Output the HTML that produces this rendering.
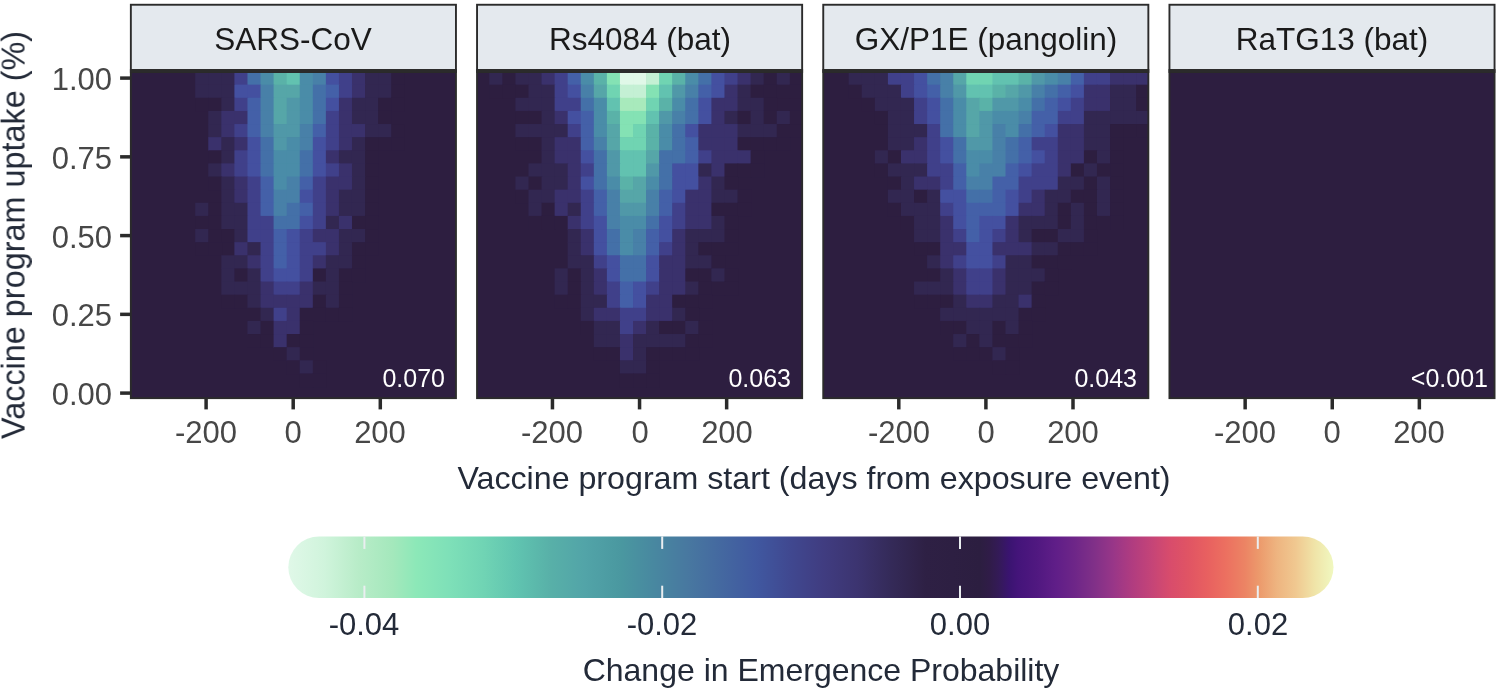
<!DOCTYPE html>
<html><head><meta charset="utf-8"><style>
html,body{margin:0;padding:0;background:#fff}
#root{position:relative;width:1500px;height:694px;overflow:hidden;background:#fff}
.t{position:absolute;white-space:nowrap;line-height:1;font-family:"Liberation Sans",sans-serif;will-change:transform}
</style></head><body><div id="root">
<svg width="1500" height="694" viewBox="0 0 1500 694" style="position:absolute;left:0;top:0"><defs><linearGradient id="cb" x1="0" x2="1" y1="0" y2="0"><stop offset="0.01%" stop-color="#e0f8e8"/><stop offset="3.43%" stop-color="#d0f4dc"/><stop offset="6.71%" stop-color="#b8ecc8"/><stop offset="9.99%" stop-color="#a4e8bc"/><stop offset="12.27%" stop-color="#8ce8b8"/><stop offset="15.40%" stop-color="#7ee0b8"/><stop offset="18.68%" stop-color="#70d4b4"/><stop offset="21.81%" stop-color="#60c4b0"/><stop offset="25.09%" stop-color="#58b0a8"/><stop offset="28.37%" stop-color="#52a4a8"/><stop offset="31.79%" stop-color="#4a98a0"/><stop offset="34.92%" stop-color="#4888a0"/><stop offset="38.20%" stop-color="#4878a0"/><stop offset="41.47%" stop-color="#4468a0"/><stop offset="44.75%" stop-color="#4058a0"/><stop offset="48.03%" stop-color="#404890"/><stop offset="51.30%" stop-color="#403c80"/><stop offset="54.44%" stop-color="#3c3470"/><stop offset="57.71%" stop-color="#342a58"/><stop offset="60.99%" stop-color="#2e2044"/><stop offset="66.18%" stop-color="#2c1e40"/><stop offset="67.09%" stop-color="#301c48"/><stop offset="68.00%" stop-color="#341a58"/><stop offset="68.96%" stop-color="#3a1470"/><stop offset="69.82%" stop-color="#44147a"/><stop offset="71.63%" stop-color="#501880"/><stop offset="73.46%" stop-color="#601e88"/><stop offset="75.27%" stop-color="#6e2688"/><stop offset="77.09%" stop-color="#803088"/><stop offset="78.91%" stop-color="#983688"/><stop offset="80.72%" stop-color="#b03c80"/><stop offset="82.55%" stop-color="#c44478"/><stop offset="84.36%" stop-color="#d84c6c"/><stop offset="86.08%" stop-color="#e05464"/><stop offset="87.90%" stop-color="#e86060"/><stop offset="89.71%" stop-color="#ec7060"/><stop offset="91.54%" stop-color="#ec8464"/><stop offset="92.90%" stop-color="#ec9a6c"/><stop offset="94.57%" stop-color="#eeb480"/><stop offset="96.38%" stop-color="#f0c890"/><stop offset="98.20%" stop-color="#f0e4a8"/><stop offset="100.00%" stop-color="#f0f8c0"/></linearGradient></defs><rect x="130.85" y="4.75" width="325.1" height="65.30" fill="#e4e9ee" stroke="#2b2b2b" stroke-width="1.9"/><rect x="130.85" y="71.95" width="325.1" height="326.2" fill="#2d1e40"/><g><rect x="195.21" y="71.95" width="13.76" height="13.41" fill="#322751"/><rect x="208.28" y="71.95" width="13.76" height="13.41" fill="#322751"/><rect x="221.34" y="71.95" width="13.76" height="13.41" fill="#322751"/><rect x="234.41" y="71.95" width="13.76" height="13.41" fill="#40408a"/><rect x="247.47" y="71.95" width="13.77" height="13.41" fill="#4470a8"/><rect x="260.54" y="71.95" width="13.77" height="13.41" fill="#4a8ca8"/><rect x="273.60" y="71.95" width="13.77" height="13.41" fill="#5ab2a8"/><rect x="286.67" y="71.95" width="13.77" height="13.41" fill="#62c2b0"/><rect x="299.73" y="71.95" width="13.77" height="13.41" fill="#4a8ca8"/><rect x="312.80" y="71.95" width="13.77" height="13.41" fill="#4880a8"/><rect x="325.86" y="71.95" width="13.77" height="13.41" fill="#4450a0"/><rect x="338.93" y="71.95" width="13.77" height="13.41" fill="#40408a"/><rect x="351.99" y="71.95" width="13.77" height="13.41" fill="#3a316c"/><rect x="365.06" y="71.95" width="13.77" height="13.41" fill="#322751"/><rect x="378.12" y="71.95" width="13.77" height="13.41" fill="#322751"/><rect x="391.19" y="71.95" width="13.77" height="13.41" fill="#2d1e40"/><rect x="195.21" y="84.66" width="13.76" height="13.83" fill="#322751"/><rect x="208.28" y="84.66" width="13.76" height="13.83" fill="#322751"/><rect x="221.34" y="84.66" width="13.76" height="13.83" fill="#322751"/><rect x="234.41" y="84.66" width="13.76" height="13.83" fill="#4450a0"/><rect x="247.47" y="84.66" width="13.77" height="13.83" fill="#4450a0"/><rect x="260.54" y="84.66" width="13.77" height="13.83" fill="#4880a8"/><rect x="273.60" y="84.66" width="13.77" height="13.83" fill="#56a6a8"/><rect x="286.67" y="84.66" width="13.77" height="13.83" fill="#56a6a8"/><rect x="299.73" y="84.66" width="13.77" height="13.83" fill="#4a8ca8"/><rect x="312.80" y="84.66" width="13.77" height="13.83" fill="#4470a8"/><rect x="325.86" y="84.66" width="13.77" height="13.83" fill="#4460a8"/><rect x="338.93" y="84.66" width="13.77" height="13.83" fill="#40408a"/><rect x="351.99" y="84.66" width="13.77" height="13.83" fill="#3a316c"/><rect x="365.06" y="84.66" width="13.77" height="13.83" fill="#322751"/><rect x="378.12" y="84.66" width="13.77" height="13.83" fill="#322751"/><rect x="391.19" y="84.66" width="13.77" height="13.83" fill="#2d1e40"/><rect x="195.21" y="97.79" width="13.76" height="13.83" fill="#2d1e40"/><rect x="208.28" y="97.79" width="13.76" height="13.83" fill="#2d1e40"/><rect x="221.34" y="97.79" width="13.76" height="13.83" fill="#322751"/><rect x="234.41" y="97.79" width="13.76" height="13.83" fill="#40408a"/><rect x="247.47" y="97.79" width="13.77" height="13.83" fill="#4460a8"/><rect x="260.54" y="97.79" width="13.77" height="13.83" fill="#4880a8"/><rect x="273.60" y="97.79" width="13.77" height="13.83" fill="#56a6a8"/><rect x="286.67" y="97.79" width="13.77" height="13.83" fill="#5098a8"/><rect x="299.73" y="97.79" width="13.77" height="13.83" fill="#4a8ca8"/><rect x="312.80" y="97.79" width="13.77" height="13.83" fill="#4470a8"/><rect x="325.86" y="97.79" width="13.77" height="13.83" fill="#4450a0"/><rect x="338.93" y="97.79" width="13.77" height="13.83" fill="#3a316c"/><rect x="351.99" y="97.79" width="13.77" height="13.83" fill="#322751"/><rect x="365.06" y="97.79" width="13.77" height="13.83" fill="#322751"/><rect x="378.12" y="97.79" width="13.77" height="13.83" fill="#2d1e40"/><rect x="391.19" y="97.79" width="13.77" height="13.83" fill="#2d1e40"/><rect x="208.28" y="110.91" width="13.76" height="13.83" fill="#322751"/><rect x="221.34" y="110.91" width="13.76" height="13.83" fill="#3a316c"/><rect x="234.41" y="110.91" width="13.76" height="13.83" fill="#3a316c"/><rect x="247.47" y="110.91" width="13.77" height="13.83" fill="#4460a8"/><rect x="260.54" y="110.91" width="13.77" height="13.83" fill="#4880a8"/><rect x="273.60" y="110.91" width="13.77" height="13.83" fill="#56a6a8"/><rect x="286.67" y="110.91" width="13.77" height="13.83" fill="#5098a8"/><rect x="299.73" y="110.91" width="13.77" height="13.83" fill="#4a8ca8"/><rect x="312.80" y="110.91" width="13.77" height="13.83" fill="#4470a8"/><rect x="325.86" y="110.91" width="13.77" height="13.83" fill="#40408a"/><rect x="338.93" y="110.91" width="13.77" height="13.83" fill="#3a316c"/><rect x="351.99" y="110.91" width="13.77" height="13.83" fill="#322751"/><rect x="365.06" y="110.91" width="13.77" height="13.83" fill="#322751"/><rect x="378.12" y="110.91" width="13.77" height="13.83" fill="#2d1e40"/><rect x="208.28" y="124.04" width="13.76" height="13.82" fill="#322751"/><rect x="221.34" y="124.04" width="13.76" height="13.82" fill="#3a316c"/><rect x="234.41" y="124.04" width="13.76" height="13.82" fill="#40408a"/><rect x="247.47" y="124.04" width="13.77" height="13.82" fill="#4460a8"/><rect x="260.54" y="124.04" width="13.77" height="13.82" fill="#4880a8"/><rect x="273.60" y="124.04" width="13.77" height="13.82" fill="#5098a8"/><rect x="286.67" y="124.04" width="13.77" height="13.82" fill="#5098a8"/><rect x="299.73" y="124.04" width="13.77" height="13.82" fill="#4880a8"/><rect x="312.80" y="124.04" width="13.77" height="13.82" fill="#4460a8"/><rect x="325.86" y="124.04" width="13.77" height="13.82" fill="#40408a"/><rect x="338.93" y="124.04" width="13.77" height="13.82" fill="#3a316c"/><rect x="351.99" y="124.04" width="13.77" height="13.82" fill="#3a316c"/><rect x="365.06" y="124.04" width="13.77" height="13.82" fill="#322751"/><rect x="378.12" y="124.04" width="13.77" height="13.82" fill="#322751"/><rect x="391.19" y="124.04" width="13.77" height="13.82" fill="#2d1e40"/><rect x="208.28" y="137.16" width="13.76" height="13.82" fill="#3a316c"/><rect x="221.34" y="137.16" width="13.76" height="13.82" fill="#322751"/><rect x="234.41" y="137.16" width="13.76" height="13.82" fill="#3a316c"/><rect x="247.47" y="137.16" width="13.77" height="13.82" fill="#4450a0"/><rect x="260.54" y="137.16" width="13.77" height="13.82" fill="#4470a8"/><rect x="273.60" y="137.16" width="13.77" height="13.82" fill="#5098a8"/><rect x="286.67" y="137.16" width="13.77" height="13.82" fill="#4a8ca8"/><rect x="299.73" y="137.16" width="13.77" height="13.82" fill="#4880a8"/><rect x="312.80" y="137.16" width="13.77" height="13.82" fill="#4450a0"/><rect x="325.86" y="137.16" width="13.77" height="13.82" fill="#40408a"/><rect x="338.93" y="137.16" width="13.77" height="13.82" fill="#3a316c"/><rect x="351.99" y="137.16" width="13.77" height="13.82" fill="#322751"/><rect x="365.06" y="137.16" width="13.77" height="13.82" fill="#2d1e40"/><rect x="378.12" y="137.16" width="13.77" height="13.82" fill="#2d1e40"/><rect x="391.19" y="137.16" width="13.77" height="13.82" fill="#2d1e40"/><rect x="208.28" y="150.29" width="13.76" height="13.82" fill="#2d1e40"/><rect x="221.34" y="150.29" width="13.76" height="13.82" fill="#322751"/><rect x="234.41" y="150.29" width="13.76" height="13.82" fill="#40408a"/><rect x="247.47" y="150.29" width="13.77" height="13.82" fill="#4450a0"/><rect x="260.54" y="150.29" width="13.77" height="13.82" fill="#4470a8"/><rect x="273.60" y="150.29" width="13.77" height="13.82" fill="#4a8ca8"/><rect x="286.67" y="150.29" width="13.77" height="13.82" fill="#4a8ca8"/><rect x="299.73" y="150.29" width="13.77" height="13.82" fill="#4470a8"/><rect x="312.80" y="150.29" width="13.77" height="13.82" fill="#4450a0"/><rect x="325.86" y="150.29" width="13.77" height="13.82" fill="#3a316c"/><rect x="338.93" y="150.29" width="13.77" height="13.82" fill="#322751"/><rect x="351.99" y="150.29" width="13.77" height="13.82" fill="#322751"/><rect x="365.06" y="150.29" width="13.77" height="13.82" fill="#2d1e40"/><rect x="208.28" y="163.41" width="13.76" height="13.82" fill="#322751"/><rect x="221.34" y="163.41" width="13.76" height="13.82" fill="#3a316c"/><rect x="234.41" y="163.41" width="13.76" height="13.82" fill="#40408a"/><rect x="247.47" y="163.41" width="13.77" height="13.82" fill="#4450a0"/><rect x="260.54" y="163.41" width="13.77" height="13.82" fill="#4470a8"/><rect x="273.60" y="163.41" width="13.77" height="13.82" fill="#4a8ca8"/><rect x="286.67" y="163.41" width="13.77" height="13.82" fill="#4a8ca8"/><rect x="299.73" y="163.41" width="13.77" height="13.82" fill="#4470a8"/><rect x="312.80" y="163.41" width="13.77" height="13.82" fill="#4450a0"/><rect x="325.86" y="163.41" width="13.77" height="13.82" fill="#40408a"/><rect x="338.93" y="163.41" width="13.77" height="13.82" fill="#3a316c"/><rect x="351.99" y="163.41" width="13.77" height="13.82" fill="#322751"/><rect x="365.06" y="163.41" width="13.77" height="13.82" fill="#2d1e40"/><rect x="208.28" y="176.54" width="13.76" height="13.82" fill="#2d1e40"/><rect x="221.34" y="176.54" width="13.76" height="13.82" fill="#322751"/><rect x="234.41" y="176.54" width="13.76" height="13.82" fill="#3a316c"/><rect x="247.47" y="176.54" width="13.77" height="13.82" fill="#40408a"/><rect x="260.54" y="176.54" width="13.77" height="13.82" fill="#4460a8"/><rect x="273.60" y="176.54" width="13.77" height="13.82" fill="#4a8ca8"/><rect x="286.67" y="176.54" width="13.77" height="13.82" fill="#4880a8"/><rect x="299.73" y="176.54" width="13.77" height="13.82" fill="#4460a8"/><rect x="312.80" y="176.54" width="13.77" height="13.82" fill="#40408a"/><rect x="325.86" y="176.54" width="13.77" height="13.82" fill="#3a316c"/><rect x="338.93" y="176.54" width="13.77" height="13.82" fill="#3a316c"/><rect x="351.99" y="176.54" width="13.77" height="13.82" fill="#322751"/><rect x="365.06" y="176.54" width="13.77" height="13.82" fill="#2d1e40"/><rect x="221.34" y="189.66" width="13.76" height="13.82" fill="#322751"/><rect x="234.41" y="189.66" width="13.76" height="13.82" fill="#3a316c"/><rect x="247.47" y="189.66" width="13.77" height="13.82" fill="#40408a"/><rect x="260.54" y="189.66" width="13.77" height="13.82" fill="#4460a8"/><rect x="273.60" y="189.66" width="13.77" height="13.82" fill="#4880a8"/><rect x="286.67" y="189.66" width="13.77" height="13.82" fill="#4880a8"/><rect x="299.73" y="189.66" width="13.77" height="13.82" fill="#4450a0"/><rect x="312.80" y="189.66" width="13.77" height="13.82" fill="#40408a"/><rect x="325.86" y="189.66" width="13.77" height="13.82" fill="#3a316c"/><rect x="338.93" y="189.66" width="13.77" height="13.82" fill="#322751"/><rect x="351.99" y="189.66" width="13.77" height="13.82" fill="#322751"/><rect x="365.06" y="189.66" width="13.77" height="13.82" fill="#2d1e40"/><rect x="195.21" y="202.79" width="13.76" height="13.82" fill="#322751"/><rect x="208.28" y="202.79" width="13.76" height="13.82" fill="#2d1e40"/><rect x="221.34" y="202.79" width="13.76" height="13.82" fill="#322751"/><rect x="234.41" y="202.79" width="13.76" height="13.82" fill="#322751"/><rect x="247.47" y="202.79" width="13.77" height="13.82" fill="#40408a"/><rect x="260.54" y="202.79" width="13.77" height="13.82" fill="#4460a8"/><rect x="273.60" y="202.79" width="13.77" height="13.82" fill="#4880a8"/><rect x="286.67" y="202.79" width="13.77" height="13.82" fill="#4470a8"/><rect x="299.73" y="202.79" width="13.77" height="13.82" fill="#4460a8"/><rect x="312.80" y="202.79" width="13.77" height="13.82" fill="#40408a"/><rect x="325.86" y="202.79" width="13.77" height="13.82" fill="#3a316c"/><rect x="338.93" y="202.79" width="13.77" height="13.82" fill="#322751"/><rect x="351.99" y="202.79" width="13.77" height="13.82" fill="#322751"/><rect x="365.06" y="202.79" width="13.77" height="13.82" fill="#2d1e40"/><rect x="195.21" y="215.91" width="13.76" height="13.82" fill="#2d1e40"/><rect x="208.28" y="215.91" width="13.76" height="13.82" fill="#2d1e40"/><rect x="221.34" y="215.91" width="13.76" height="13.82" fill="#322751"/><rect x="234.41" y="215.91" width="13.76" height="13.82" fill="#322751"/><rect x="247.47" y="215.91" width="13.77" height="13.82" fill="#40408a"/><rect x="260.54" y="215.91" width="13.77" height="13.82" fill="#40408a"/><rect x="273.60" y="215.91" width="13.77" height="13.82" fill="#4470a8"/><rect x="286.67" y="215.91" width="13.77" height="13.82" fill="#4470a8"/><rect x="299.73" y="215.91" width="13.77" height="13.82" fill="#4450a0"/><rect x="312.80" y="215.91" width="13.77" height="13.82" fill="#40408a"/><rect x="325.86" y="215.91" width="13.77" height="13.82" fill="#322751"/><rect x="338.93" y="215.91" width="13.77" height="13.82" fill="#3a316c"/><rect x="351.99" y="215.91" width="13.77" height="13.82" fill="#2d1e40"/><rect x="365.06" y="215.91" width="13.77" height="13.82" fill="#2d1e40"/><rect x="195.21" y="229.04" width="13.76" height="13.82" fill="#322751"/><rect x="208.28" y="229.04" width="13.76" height="13.82" fill="#2d1e40"/><rect x="221.34" y="229.04" width="13.76" height="13.82" fill="#2d1e40"/><rect x="234.41" y="229.04" width="13.76" height="13.82" fill="#322751"/><rect x="247.47" y="229.04" width="13.77" height="13.82" fill="#40408a"/><rect x="260.54" y="229.04" width="13.77" height="13.82" fill="#40408a"/><rect x="273.60" y="229.04" width="13.77" height="13.82" fill="#4460a8"/><rect x="286.67" y="229.04" width="13.77" height="13.82" fill="#4450a0"/><rect x="299.73" y="229.04" width="13.77" height="13.82" fill="#40408a"/><rect x="312.80" y="229.04" width="13.77" height="13.82" fill="#3a316c"/><rect x="325.86" y="229.04" width="13.77" height="13.82" fill="#3a316c"/><rect x="338.93" y="229.04" width="13.77" height="13.82" fill="#322751"/><rect x="351.99" y="229.04" width="13.77" height="13.82" fill="#322751"/><rect x="365.06" y="229.04" width="13.77" height="13.82" fill="#2d1e40"/><rect x="195.21" y="242.16" width="13.76" height="13.82" fill="#2d1e40"/><rect x="208.28" y="242.16" width="13.76" height="13.82" fill="#2d1e40"/><rect x="234.41" y="242.16" width="13.76" height="13.82" fill="#3a316c"/><rect x="247.47" y="242.16" width="13.77" height="13.82" fill="#322751"/><rect x="260.54" y="242.16" width="13.77" height="13.82" fill="#40408a"/><rect x="273.60" y="242.16" width="13.77" height="13.82" fill="#4460a8"/><rect x="286.67" y="242.16" width="13.77" height="13.82" fill="#4450a0"/><rect x="299.73" y="242.16" width="13.77" height="13.82" fill="#40408a"/><rect x="312.80" y="242.16" width="13.77" height="13.82" fill="#40408a"/><rect x="325.86" y="242.16" width="13.77" height="13.82" fill="#3a316c"/><rect x="338.93" y="242.16" width="13.77" height="13.82" fill="#322751"/><rect x="351.99" y="242.16" width="13.77" height="13.82" fill="#2d1e40"/><rect x="365.06" y="242.16" width="13.77" height="13.82" fill="#2d1e40"/><rect x="221.34" y="255.29" width="13.76" height="13.82" fill="#322751"/><rect x="234.41" y="255.29" width="13.76" height="13.82" fill="#322751"/><rect x="247.47" y="255.29" width="13.77" height="13.82" fill="#3a316c"/><rect x="260.54" y="255.29" width="13.77" height="13.82" fill="#40408a"/><rect x="273.60" y="255.29" width="13.77" height="13.82" fill="#4460a8"/><rect x="286.67" y="255.29" width="13.77" height="13.82" fill="#4450a0"/><rect x="299.73" y="255.29" width="13.77" height="13.82" fill="#40408a"/><rect x="312.80" y="255.29" width="13.77" height="13.82" fill="#3a316c"/><rect x="325.86" y="255.29" width="13.77" height="13.82" fill="#322751"/><rect x="338.93" y="255.29" width="13.77" height="13.82" fill="#322751"/><rect x="351.99" y="255.29" width="13.77" height="13.82" fill="#2d1e40"/><rect x="221.34" y="268.41" width="13.76" height="13.82" fill="#322751"/><rect x="234.41" y="268.41" width="13.76" height="13.82" fill="#2d1e40"/><rect x="247.47" y="268.41" width="13.77" height="13.82" fill="#322751"/><rect x="260.54" y="268.41" width="13.77" height="13.82" fill="#40408a"/><rect x="273.60" y="268.41" width="13.77" height="13.82" fill="#4450a0"/><rect x="286.67" y="268.41" width="13.77" height="13.82" fill="#4450a0"/><rect x="299.73" y="268.41" width="13.77" height="13.82" fill="#40408a"/><rect x="312.80" y="268.41" width="13.77" height="13.82" fill="#2d1e40"/><rect x="325.86" y="268.41" width="13.77" height="13.82" fill="#322751"/><rect x="338.93" y="268.41" width="13.77" height="13.82" fill="#2d1e40"/><rect x="351.99" y="268.41" width="13.77" height="13.82" fill="#2d1e40"/><rect x="221.34" y="281.54" width="13.76" height="13.82" fill="#322751"/><rect x="234.41" y="281.54" width="13.76" height="13.82" fill="#322751"/><rect x="247.47" y="281.54" width="13.77" height="13.82" fill="#322751"/><rect x="260.54" y="281.54" width="13.77" height="13.82" fill="#3a316c"/><rect x="273.60" y="281.54" width="13.77" height="13.82" fill="#40408a"/><rect x="286.67" y="281.54" width="13.77" height="13.82" fill="#40408a"/><rect x="299.73" y="281.54" width="13.77" height="13.82" fill="#3a316c"/><rect x="312.80" y="281.54" width="13.77" height="13.82" fill="#322751"/><rect x="325.86" y="281.54" width="13.77" height="13.82" fill="#322751"/><rect x="338.93" y="281.54" width="13.77" height="13.82" fill="#2d1e40"/><rect x="221.34" y="294.66" width="13.76" height="13.82" fill="#2d1e40"/><rect x="234.41" y="294.66" width="13.76" height="13.82" fill="#2d1e40"/><rect x="247.47" y="294.66" width="13.77" height="13.82" fill="#322751"/><rect x="260.54" y="294.66" width="13.77" height="13.82" fill="#3a316c"/><rect x="273.60" y="294.66" width="13.77" height="13.82" fill="#3a316c"/><rect x="286.67" y="294.66" width="13.77" height="13.82" fill="#3a316c"/><rect x="299.73" y="294.66" width="13.77" height="13.82" fill="#3a316c"/><rect x="312.80" y="294.66" width="13.77" height="13.82" fill="#2d1e40"/><rect x="325.86" y="294.66" width="13.77" height="13.82" fill="#322751"/><rect x="338.93" y="294.66" width="13.77" height="13.82" fill="#2d1e40"/><rect x="247.47" y="307.79" width="13.77" height="13.82" fill="#2d1e40"/><rect x="260.54" y="307.79" width="13.77" height="13.82" fill="#322751"/><rect x="273.60" y="307.79" width="13.77" height="13.82" fill="#40408a"/><rect x="286.67" y="307.79" width="13.77" height="13.82" fill="#3a316c"/><rect x="299.73" y="307.79" width="13.77" height="13.82" fill="#2d1e40"/><rect x="312.80" y="307.79" width="13.77" height="13.82" fill="#2d1e40"/><rect x="325.86" y="307.79" width="13.77" height="13.82" fill="#2d1e40"/><rect x="338.93" y="307.79" width="13.77" height="13.82" fill="#2d1e40"/><rect x="247.47" y="320.91" width="13.77" height="13.82" fill="#322751"/><rect x="260.54" y="320.91" width="13.77" height="13.82" fill="#2d1e40"/><rect x="273.60" y="320.91" width="13.77" height="13.82" fill="#3a316c"/><rect x="286.67" y="320.91" width="13.77" height="13.82" fill="#3a316c"/><rect x="299.73" y="320.91" width="13.77" height="13.82" fill="#2d1e40"/><rect x="247.47" y="334.04" width="13.77" height="13.82" fill="#2d1e40"/><rect x="260.54" y="334.04" width="13.77" height="13.82" fill="#2d1e40"/><rect x="273.60" y="334.04" width="13.77" height="13.82" fill="#3a316c"/><rect x="286.67" y="334.04" width="13.77" height="13.82" fill="#2d1e40"/><rect x="299.73" y="334.04" width="13.77" height="13.82" fill="#2d1e40"/><rect x="273.60" y="347.16" width="13.77" height="13.82" fill="#2d1e40"/><rect x="286.67" y="347.16" width="13.77" height="13.82" fill="#322751"/><rect x="299.73" y="347.16" width="13.77" height="13.82" fill="#2d1e40"/><rect x="286.67" y="360.29" width="13.77" height="13.82" fill="#2d1e40"/><rect x="299.73" y="360.29" width="13.77" height="13.82" fill="#322751"/><rect x="312.80" y="360.29" width="13.77" height="13.82" fill="#2d1e40"/><rect x="299.73" y="373.41" width="13.77" height="13.82" fill="#2d1e40"/><rect x="312.80" y="373.41" width="13.77" height="13.82" fill="#2d1e40"/></g><rect x="130.85" y="71.95" width="325.1" height="326.2" fill="none" stroke="#2b2b2b" stroke-width="1.9"/><rect x="129.90" y="69.10" width="327.00" height="3.80" fill="#2b2b2b"/><line x1="206.10" y1="398.15" x2="206.10" y2="409.4" stroke="#2b2b2b" stroke-width="3.5"/><line x1="293.20" y1="398.15" x2="293.20" y2="409.4" stroke="#2b2b2b" stroke-width="3.5"/><line x1="380.30" y1="398.15" x2="380.30" y2="409.4" stroke="#2b2b2b" stroke-width="3.5"/><rect x="477.05" y="4.75" width="325.1" height="65.30" fill="#e4e9ee" stroke="#2b2b2b" stroke-width="1.9"/><rect x="477.05" y="71.95" width="325.1" height="326.2" fill="#2d1e40"/><g><rect x="489.30" y="71.95" width="13.77" height="13.41" fill="#322751"/><rect x="502.37" y="71.95" width="13.77" height="13.41" fill="#2d1e40"/><rect x="515.43" y="71.95" width="13.77" height="13.41" fill="#322751"/><rect x="528.50" y="71.95" width="13.77" height="13.41" fill="#322751"/><rect x="541.56" y="71.95" width="13.77" height="13.41" fill="#3a316c"/><rect x="554.63" y="71.95" width="13.77" height="13.41" fill="#40408a"/><rect x="567.69" y="71.95" width="13.77" height="13.41" fill="#4460a8"/><rect x="580.76" y="71.95" width="13.77" height="13.41" fill="#4a8ca8"/><rect x="593.82" y="71.95" width="13.77" height="13.41" fill="#5ab2a8"/><rect x="606.89" y="71.95" width="13.77" height="13.41" fill="#84e2b4"/><rect x="619.95" y="71.95" width="13.77" height="13.41" fill="#e0f8e8"/><rect x="633.02" y="71.95" width="13.77" height="13.41" fill="#e0f8e8"/><rect x="646.08" y="71.95" width="13.77" height="13.41" fill="#c4f0d4"/><rect x="659.15" y="71.95" width="13.77" height="13.41" fill="#70d4b2"/><rect x="672.21" y="71.95" width="13.77" height="13.41" fill="#5ab2a8"/><rect x="685.28" y="71.95" width="13.77" height="13.41" fill="#4a8ca8"/><rect x="698.34" y="71.95" width="13.77" height="13.41" fill="#4470a8"/><rect x="711.41" y="71.95" width="13.77" height="13.41" fill="#4450a0"/><rect x="724.47" y="71.95" width="13.77" height="13.41" fill="#40408a"/><rect x="737.54" y="71.95" width="13.77" height="13.41" fill="#3a316c"/><rect x="750.60" y="71.95" width="13.77" height="13.41" fill="#322751"/><rect x="763.67" y="71.95" width="13.77" height="13.41" fill="#2d1e40"/><rect x="776.73" y="71.95" width="13.77" height="13.41" fill="#322751"/><rect x="789.80" y="71.95" width="12.35" height="13.41" fill="#2d1e40"/><rect x="489.30" y="84.66" width="13.77" height="13.83" fill="#2d1e40"/><rect x="502.37" y="84.66" width="13.77" height="13.83" fill="#2d1e40"/><rect x="515.43" y="84.66" width="13.77" height="13.83" fill="#2d1e40"/><rect x="528.50" y="84.66" width="13.77" height="13.83" fill="#322751"/><rect x="541.56" y="84.66" width="13.77" height="13.83" fill="#322751"/><rect x="554.63" y="84.66" width="13.77" height="13.83" fill="#40408a"/><rect x="567.69" y="84.66" width="13.77" height="13.83" fill="#4450a0"/><rect x="580.76" y="84.66" width="13.77" height="13.83" fill="#4880a8"/><rect x="593.82" y="84.66" width="13.77" height="13.83" fill="#56a6a8"/><rect x="606.89" y="84.66" width="13.77" height="13.83" fill="#70d4b2"/><rect x="619.95" y="84.66" width="13.77" height="13.83" fill="#c4f0d4"/><rect x="633.02" y="84.66" width="13.77" height="13.83" fill="#c4f0d4"/><rect x="646.08" y="84.66" width="13.77" height="13.83" fill="#84e2b4"/><rect x="659.15" y="84.66" width="13.77" height="13.83" fill="#62c2b0"/><rect x="672.21" y="84.66" width="13.77" height="13.83" fill="#5098a8"/><rect x="685.28" y="84.66" width="13.77" height="13.83" fill="#4880a8"/><rect x="698.34" y="84.66" width="13.77" height="13.83" fill="#4460a8"/><rect x="711.41" y="84.66" width="13.77" height="13.83" fill="#4450a0"/><rect x="724.47" y="84.66" width="13.77" height="13.83" fill="#3a316c"/><rect x="737.54" y="84.66" width="13.77" height="13.83" fill="#322751"/><rect x="750.60" y="84.66" width="13.77" height="13.83" fill="#2d1e40"/><rect x="763.67" y="84.66" width="13.77" height="13.83" fill="#2d1e40"/><rect x="776.73" y="84.66" width="13.77" height="13.83" fill="#2d1e40"/><rect x="789.80" y="84.66" width="12.35" height="13.83" fill="#2d1e40"/><rect x="515.43" y="97.79" width="13.77" height="13.83" fill="#322751"/><rect x="528.50" y="97.79" width="13.77" height="13.83" fill="#322751"/><rect x="541.56" y="97.79" width="13.77" height="13.83" fill="#322751"/><rect x="554.63" y="97.79" width="13.77" height="13.83" fill="#40408a"/><rect x="567.69" y="97.79" width="13.77" height="13.83" fill="#40408a"/><rect x="580.76" y="97.79" width="13.77" height="13.83" fill="#4470a8"/><rect x="593.82" y="97.79" width="13.77" height="13.83" fill="#4a8ca8"/><rect x="606.89" y="97.79" width="13.77" height="13.83" fill="#62c2b0"/><rect x="619.95" y="97.79" width="13.77" height="13.83" fill="#a8eabc"/><rect x="633.02" y="97.79" width="13.77" height="13.83" fill="#a8eabc"/><rect x="646.08" y="97.79" width="13.77" height="13.83" fill="#70d4b2"/><rect x="659.15" y="97.79" width="13.77" height="13.83" fill="#5ab2a8"/><rect x="672.21" y="97.79" width="13.77" height="13.83" fill="#4a8ca8"/><rect x="685.28" y="97.79" width="13.77" height="13.83" fill="#4470a8"/><rect x="698.34" y="97.79" width="13.77" height="13.83" fill="#4450a0"/><rect x="711.41" y="97.79" width="13.77" height="13.83" fill="#3a316c"/><rect x="724.47" y="97.79" width="13.77" height="13.83" fill="#3a316c"/><rect x="737.54" y="97.79" width="13.77" height="13.83" fill="#322751"/><rect x="750.60" y="97.79" width="13.77" height="13.83" fill="#322751"/><rect x="763.67" y="97.79" width="13.77" height="13.83" fill="#2d1e40"/><rect x="515.43" y="110.91" width="13.77" height="13.83" fill="#2d1e40"/><rect x="528.50" y="110.91" width="13.77" height="13.83" fill="#2d1e40"/><rect x="541.56" y="110.91" width="13.77" height="13.83" fill="#322751"/><rect x="554.63" y="110.91" width="13.77" height="13.83" fill="#3a316c"/><rect x="567.69" y="110.91" width="13.77" height="13.83" fill="#4450a0"/><rect x="580.76" y="110.91" width="13.77" height="13.83" fill="#4460a8"/><rect x="593.82" y="110.91" width="13.77" height="13.83" fill="#4a8ca8"/><rect x="606.89" y="110.91" width="13.77" height="13.83" fill="#5ab2a8"/><rect x="619.95" y="110.91" width="13.77" height="13.83" fill="#84e2b4"/><rect x="633.02" y="110.91" width="13.77" height="13.83" fill="#84e2b4"/><rect x="646.08" y="110.91" width="13.77" height="13.83" fill="#62c2b0"/><rect x="659.15" y="110.91" width="13.77" height="13.83" fill="#5098a8"/><rect x="672.21" y="110.91" width="13.77" height="13.83" fill="#4880a8"/><rect x="685.28" y="110.91" width="13.77" height="13.83" fill="#4470a8"/><rect x="698.34" y="110.91" width="13.77" height="13.83" fill="#4450a0"/><rect x="711.41" y="110.91" width="13.77" height="13.83" fill="#3a316c"/><rect x="724.47" y="110.91" width="13.77" height="13.83" fill="#322751"/><rect x="737.54" y="110.91" width="13.77" height="13.83" fill="#2d1e40"/><rect x="750.60" y="110.91" width="13.77" height="13.83" fill="#322751"/><rect x="763.67" y="110.91" width="13.77" height="13.83" fill="#2d1e40"/><rect x="776.73" y="110.91" width="13.77" height="13.83" fill="#322751"/><rect x="789.80" y="110.91" width="12.35" height="13.83" fill="#2d1e40"/><rect x="515.43" y="124.04" width="13.77" height="13.82" fill="#322751"/><rect x="528.50" y="124.04" width="13.77" height="13.82" fill="#322751"/><rect x="541.56" y="124.04" width="13.77" height="13.82" fill="#322751"/><rect x="554.63" y="124.04" width="13.77" height="13.82" fill="#322751"/><rect x="567.69" y="124.04" width="13.77" height="13.82" fill="#40408a"/><rect x="580.76" y="124.04" width="13.77" height="13.82" fill="#4460a8"/><rect x="593.82" y="124.04" width="13.77" height="13.82" fill="#4a8ca8"/><rect x="606.89" y="124.04" width="13.77" height="13.82" fill="#56a6a8"/><rect x="619.95" y="124.04" width="13.77" height="13.82" fill="#84e2b4"/><rect x="633.02" y="124.04" width="13.77" height="13.82" fill="#70d4b2"/><rect x="646.08" y="124.04" width="13.77" height="13.82" fill="#5ab2a8"/><rect x="659.15" y="124.04" width="13.77" height="13.82" fill="#4a8ca8"/><rect x="672.21" y="124.04" width="13.77" height="13.82" fill="#4470a8"/><rect x="685.28" y="124.04" width="13.77" height="13.82" fill="#4450a0"/><rect x="698.34" y="124.04" width="13.77" height="13.82" fill="#3a316c"/><rect x="711.41" y="124.04" width="13.77" height="13.82" fill="#3a316c"/><rect x="724.47" y="124.04" width="13.77" height="13.82" fill="#3a316c"/><rect x="737.54" y="124.04" width="13.77" height="13.82" fill="#322751"/><rect x="750.60" y="124.04" width="13.77" height="13.82" fill="#322751"/><rect x="763.67" y="124.04" width="13.77" height="13.82" fill="#322751"/><rect x="776.73" y="124.04" width="13.77" height="13.82" fill="#2d1e40"/><rect x="789.80" y="124.04" width="12.35" height="13.82" fill="#2d1e40"/><rect x="515.43" y="137.16" width="13.77" height="13.82" fill="#2d1e40"/><rect x="528.50" y="137.16" width="13.77" height="13.82" fill="#2d1e40"/><rect x="541.56" y="137.16" width="13.77" height="13.82" fill="#322751"/><rect x="554.63" y="137.16" width="13.77" height="13.82" fill="#3a316c"/><rect x="567.69" y="137.16" width="13.77" height="13.82" fill="#3a316c"/><rect x="580.76" y="137.16" width="13.77" height="13.82" fill="#4460a8"/><rect x="593.82" y="137.16" width="13.77" height="13.82" fill="#4880a8"/><rect x="606.89" y="137.16" width="13.77" height="13.82" fill="#56a6a8"/><rect x="619.95" y="137.16" width="13.77" height="13.82" fill="#70d4b2"/><rect x="633.02" y="137.16" width="13.77" height="13.82" fill="#70d4b2"/><rect x="646.08" y="137.16" width="13.77" height="13.82" fill="#5ab2a8"/><rect x="659.15" y="137.16" width="13.77" height="13.82" fill="#4a8ca8"/><rect x="672.21" y="137.16" width="13.77" height="13.82" fill="#4470a8"/><rect x="685.28" y="137.16" width="13.77" height="13.82" fill="#4460a8"/><rect x="698.34" y="137.16" width="13.77" height="13.82" fill="#3a316c"/><rect x="711.41" y="137.16" width="13.77" height="13.82" fill="#3a316c"/><rect x="724.47" y="137.16" width="13.77" height="13.82" fill="#3a316c"/><rect x="737.54" y="137.16" width="13.77" height="13.82" fill="#2d1e40"/><rect x="750.60" y="137.16" width="13.77" height="13.82" fill="#2d1e40"/><rect x="763.67" y="137.16" width="13.77" height="13.82" fill="#2d1e40"/><rect x="776.73" y="137.16" width="13.77" height="13.82" fill="#2d1e40"/><rect x="541.56" y="150.29" width="13.77" height="13.82" fill="#322751"/><rect x="554.63" y="150.29" width="13.77" height="13.82" fill="#3a316c"/><rect x="567.69" y="150.29" width="13.77" height="13.82" fill="#3a316c"/><rect x="580.76" y="150.29" width="13.77" height="13.82" fill="#4450a0"/><rect x="593.82" y="150.29" width="13.77" height="13.82" fill="#4470a8"/><rect x="606.89" y="150.29" width="13.77" height="13.82" fill="#5098a8"/><rect x="619.95" y="150.29" width="13.77" height="13.82" fill="#62c2b0"/><rect x="633.02" y="150.29" width="13.77" height="13.82" fill="#62c2b0"/><rect x="646.08" y="150.29" width="13.77" height="13.82" fill="#56a6a8"/><rect x="659.15" y="150.29" width="13.77" height="13.82" fill="#4470a8"/><rect x="672.21" y="150.29" width="13.77" height="13.82" fill="#4470a8"/><rect x="685.28" y="150.29" width="13.77" height="13.82" fill="#4460a8"/><rect x="698.34" y="150.29" width="13.77" height="13.82" fill="#40408a"/><rect x="711.41" y="150.29" width="13.77" height="13.82" fill="#3a316c"/><rect x="724.47" y="150.29" width="13.77" height="13.82" fill="#3a316c"/><rect x="737.54" y="150.29" width="13.77" height="13.82" fill="#3a316c"/><rect x="750.60" y="150.29" width="13.77" height="13.82" fill="#2d1e40"/><rect x="528.50" y="163.41" width="13.77" height="13.82" fill="#322751"/><rect x="541.56" y="163.41" width="13.77" height="13.82" fill="#322751"/><rect x="554.63" y="163.41" width="13.77" height="13.82" fill="#322751"/><rect x="567.69" y="163.41" width="13.77" height="13.82" fill="#3a316c"/><rect x="580.76" y="163.41" width="13.77" height="13.82" fill="#40408a"/><rect x="593.82" y="163.41" width="13.77" height="13.82" fill="#4470a8"/><rect x="606.89" y="163.41" width="13.77" height="13.82" fill="#5098a8"/><rect x="619.95" y="163.41" width="13.77" height="13.82" fill="#62c2b0"/><rect x="633.02" y="163.41" width="13.77" height="13.82" fill="#62c2b0"/><rect x="646.08" y="163.41" width="13.77" height="13.82" fill="#5098a8"/><rect x="659.15" y="163.41" width="13.77" height="13.82" fill="#4470a8"/><rect x="672.21" y="163.41" width="13.77" height="13.82" fill="#4450a0"/><rect x="685.28" y="163.41" width="13.77" height="13.82" fill="#4450a0"/><rect x="698.34" y="163.41" width="13.77" height="13.82" fill="#322751"/><rect x="711.41" y="163.41" width="13.77" height="13.82" fill="#3a316c"/><rect x="724.47" y="163.41" width="13.77" height="13.82" fill="#2d1e40"/><rect x="737.54" y="163.41" width="13.77" height="13.82" fill="#2d1e40"/><rect x="750.60" y="163.41" width="13.77" height="13.82" fill="#2d1e40"/><rect x="515.43" y="176.54" width="13.77" height="13.82" fill="#322751"/><rect x="528.50" y="176.54" width="13.77" height="13.82" fill="#2d1e40"/><rect x="541.56" y="176.54" width="13.77" height="13.82" fill="#322751"/><rect x="554.63" y="176.54" width="13.77" height="13.82" fill="#322751"/><rect x="567.69" y="176.54" width="13.77" height="13.82" fill="#3a316c"/><rect x="580.76" y="176.54" width="13.77" height="13.82" fill="#4450a0"/><rect x="593.82" y="176.54" width="13.77" height="13.82" fill="#4470a8"/><rect x="606.89" y="176.54" width="13.77" height="13.82" fill="#4a8ca8"/><rect x="619.95" y="176.54" width="13.77" height="13.82" fill="#5ab2a8"/><rect x="633.02" y="176.54" width="13.77" height="13.82" fill="#56a6a8"/><rect x="646.08" y="176.54" width="13.77" height="13.82" fill="#4a8ca8"/><rect x="659.15" y="176.54" width="13.77" height="13.82" fill="#4470a8"/><rect x="672.21" y="176.54" width="13.77" height="13.82" fill="#4450a0"/><rect x="685.28" y="176.54" width="13.77" height="13.82" fill="#4450a0"/><rect x="698.34" y="176.54" width="13.77" height="13.82" fill="#3a316c"/><rect x="711.41" y="176.54" width="13.77" height="13.82" fill="#322751"/><rect x="724.47" y="176.54" width="13.77" height="13.82" fill="#2d1e40"/><rect x="515.43" y="189.66" width="13.77" height="13.82" fill="#2d1e40"/><rect x="528.50" y="189.66" width="13.77" height="13.82" fill="#322751"/><rect x="541.56" y="189.66" width="13.77" height="13.82" fill="#322751"/><rect x="554.63" y="189.66" width="13.77" height="13.82" fill="#3a316c"/><rect x="567.69" y="189.66" width="13.77" height="13.82" fill="#3a316c"/><rect x="580.76" y="189.66" width="13.77" height="13.82" fill="#40408a"/><rect x="593.82" y="189.66" width="13.77" height="13.82" fill="#4460a8"/><rect x="606.89" y="189.66" width="13.77" height="13.82" fill="#4880a8"/><rect x="619.95" y="189.66" width="13.77" height="13.82" fill="#56a6a8"/><rect x="633.02" y="189.66" width="13.77" height="13.82" fill="#56a6a8"/><rect x="646.08" y="189.66" width="13.77" height="13.82" fill="#4880a8"/><rect x="659.15" y="189.66" width="13.77" height="13.82" fill="#4460a8"/><rect x="672.21" y="189.66" width="13.77" height="13.82" fill="#4450a0"/><rect x="685.28" y="189.66" width="13.77" height="13.82" fill="#3a316c"/><rect x="698.34" y="189.66" width="13.77" height="13.82" fill="#3a316c"/><rect x="711.41" y="189.66" width="13.77" height="13.82" fill="#322751"/><rect x="724.47" y="189.66" width="13.77" height="13.82" fill="#322751"/><rect x="737.54" y="189.66" width="13.77" height="13.82" fill="#2d1e40"/><rect x="528.50" y="202.79" width="13.77" height="13.82" fill="#322751"/><rect x="541.56" y="202.79" width="13.77" height="13.82" fill="#2d1e40"/><rect x="554.63" y="202.79" width="13.77" height="13.82" fill="#3a316c"/><rect x="567.69" y="202.79" width="13.77" height="13.82" fill="#322751"/><rect x="580.76" y="202.79" width="13.77" height="13.82" fill="#40408a"/><rect x="593.82" y="202.79" width="13.77" height="13.82" fill="#4460a8"/><rect x="606.89" y="202.79" width="13.77" height="13.82" fill="#4880a8"/><rect x="619.95" y="202.79" width="13.77" height="13.82" fill="#5098a8"/><rect x="633.02" y="202.79" width="13.77" height="13.82" fill="#5098a8"/><rect x="646.08" y="202.79" width="13.77" height="13.82" fill="#4880a8"/><rect x="659.15" y="202.79" width="13.77" height="13.82" fill="#4460a8"/><rect x="672.21" y="202.79" width="13.77" height="13.82" fill="#40408a"/><rect x="685.28" y="202.79" width="13.77" height="13.82" fill="#3a316c"/><rect x="698.34" y="202.79" width="13.77" height="13.82" fill="#3a316c"/><rect x="711.41" y="202.79" width="13.77" height="13.82" fill="#2d1e40"/><rect x="724.47" y="202.79" width="13.77" height="13.82" fill="#2d1e40"/><rect x="737.54" y="202.79" width="13.77" height="13.82" fill="#2d1e40"/><rect x="528.50" y="215.91" width="13.77" height="13.82" fill="#2d1e40"/><rect x="541.56" y="215.91" width="13.77" height="13.82" fill="#2d1e40"/><rect x="554.63" y="215.91" width="13.77" height="13.82" fill="#2d1e40"/><rect x="567.69" y="215.91" width="13.77" height="13.82" fill="#3a316c"/><rect x="580.76" y="215.91" width="13.77" height="13.82" fill="#40408a"/><rect x="593.82" y="215.91" width="13.77" height="13.82" fill="#4450a0"/><rect x="606.89" y="215.91" width="13.77" height="13.82" fill="#4880a8"/><rect x="619.95" y="215.91" width="13.77" height="13.82" fill="#4a8ca8"/><rect x="633.02" y="215.91" width="13.77" height="13.82" fill="#4a8ca8"/><rect x="646.08" y="215.91" width="13.77" height="13.82" fill="#4470a8"/><rect x="659.15" y="215.91" width="13.77" height="13.82" fill="#4450a0"/><rect x="672.21" y="215.91" width="13.77" height="13.82" fill="#40408a"/><rect x="685.28" y="215.91" width="13.77" height="13.82" fill="#3a316c"/><rect x="698.34" y="215.91" width="13.77" height="13.82" fill="#3a316c"/><rect x="711.41" y="215.91" width="13.77" height="13.82" fill="#322751"/><rect x="724.47" y="215.91" width="13.77" height="13.82" fill="#2d1e40"/><rect x="567.69" y="229.04" width="13.77" height="13.82" fill="#322751"/><rect x="580.76" y="229.04" width="13.77" height="13.82" fill="#3a316c"/><rect x="593.82" y="229.04" width="13.77" height="13.82" fill="#4450a0"/><rect x="606.89" y="229.04" width="13.77" height="13.82" fill="#4470a8"/><rect x="619.95" y="229.04" width="13.77" height="13.82" fill="#4a8ca8"/><rect x="633.02" y="229.04" width="13.77" height="13.82" fill="#4880a8"/><rect x="646.08" y="229.04" width="13.77" height="13.82" fill="#4460a8"/><rect x="659.15" y="229.04" width="13.77" height="13.82" fill="#4450a0"/><rect x="672.21" y="229.04" width="13.77" height="13.82" fill="#3a316c"/><rect x="685.28" y="229.04" width="13.77" height="13.82" fill="#322751"/><rect x="698.34" y="229.04" width="13.77" height="13.82" fill="#322751"/><rect x="711.41" y="229.04" width="13.77" height="13.82" fill="#322751"/><rect x="724.47" y="229.04" width="13.77" height="13.82" fill="#2d1e40"/><rect x="567.69" y="242.16" width="13.77" height="13.82" fill="#322751"/><rect x="580.76" y="242.16" width="13.77" height="13.82" fill="#3a316c"/><rect x="593.82" y="242.16" width="13.77" height="13.82" fill="#4450a0"/><rect x="606.89" y="242.16" width="13.77" height="13.82" fill="#4470a8"/><rect x="619.95" y="242.16" width="13.77" height="13.82" fill="#4a8ca8"/><rect x="633.02" y="242.16" width="13.77" height="13.82" fill="#4880a8"/><rect x="646.08" y="242.16" width="13.77" height="13.82" fill="#4460a8"/><rect x="659.15" y="242.16" width="13.77" height="13.82" fill="#40408a"/><rect x="672.21" y="242.16" width="13.77" height="13.82" fill="#3a316c"/><rect x="685.28" y="242.16" width="13.77" height="13.82" fill="#322751"/><rect x="698.34" y="242.16" width="13.77" height="13.82" fill="#2d1e40"/><rect x="711.41" y="242.16" width="13.77" height="13.82" fill="#2d1e40"/><rect x="724.47" y="242.16" width="13.77" height="13.82" fill="#2d1e40"/><rect x="567.69" y="255.29" width="13.77" height="13.82" fill="#322751"/><rect x="580.76" y="255.29" width="13.77" height="13.82" fill="#322751"/><rect x="593.82" y="255.29" width="13.77" height="13.82" fill="#40408a"/><rect x="606.89" y="255.29" width="13.77" height="13.82" fill="#4450a0"/><rect x="619.95" y="255.29" width="13.77" height="13.82" fill="#4470a8"/><rect x="633.02" y="255.29" width="13.77" height="13.82" fill="#4470a8"/><rect x="646.08" y="255.29" width="13.77" height="13.82" fill="#4450a0"/><rect x="659.15" y="255.29" width="13.77" height="13.82" fill="#3a316c"/><rect x="672.21" y="255.29" width="13.77" height="13.82" fill="#3a316c"/><rect x="685.28" y="255.29" width="13.77" height="13.82" fill="#322751"/><rect x="698.34" y="255.29" width="13.77" height="13.82" fill="#322751"/><rect x="711.41" y="255.29" width="13.77" height="13.82" fill="#2d1e40"/><rect x="554.63" y="268.41" width="13.77" height="13.82" fill="#322751"/><rect x="567.69" y="268.41" width="13.77" height="13.82" fill="#2d1e40"/><rect x="580.76" y="268.41" width="13.77" height="13.82" fill="#322751"/><rect x="593.82" y="268.41" width="13.77" height="13.82" fill="#3a316c"/><rect x="606.89" y="268.41" width="13.77" height="13.82" fill="#4450a0"/><rect x="619.95" y="268.41" width="13.77" height="13.82" fill="#4470a8"/><rect x="633.02" y="268.41" width="13.77" height="13.82" fill="#4470a8"/><rect x="646.08" y="268.41" width="13.77" height="13.82" fill="#4450a0"/><rect x="659.15" y="268.41" width="13.77" height="13.82" fill="#3a316c"/><rect x="672.21" y="268.41" width="13.77" height="13.82" fill="#3a316c"/><rect x="685.28" y="268.41" width="13.77" height="13.82" fill="#2d1e40"/><rect x="698.34" y="268.41" width="13.77" height="13.82" fill="#2d1e40"/><rect x="711.41" y="268.41" width="13.77" height="13.82" fill="#322751"/><rect x="724.47" y="268.41" width="13.77" height="13.82" fill="#2d1e40"/><rect x="554.63" y="281.54" width="13.77" height="13.82" fill="#322751"/><rect x="567.69" y="281.54" width="13.77" height="13.82" fill="#2d1e40"/><rect x="580.76" y="281.54" width="13.77" height="13.82" fill="#322751"/><rect x="593.82" y="281.54" width="13.77" height="13.82" fill="#3a316c"/><rect x="606.89" y="281.54" width="13.77" height="13.82" fill="#40408a"/><rect x="619.95" y="281.54" width="13.77" height="13.82" fill="#4460a8"/><rect x="633.02" y="281.54" width="13.77" height="13.82" fill="#4450a0"/><rect x="646.08" y="281.54" width="13.77" height="13.82" fill="#40408a"/><rect x="659.15" y="281.54" width="13.77" height="13.82" fill="#3a316c"/><rect x="672.21" y="281.54" width="13.77" height="13.82" fill="#3a316c"/><rect x="685.28" y="281.54" width="13.77" height="13.82" fill="#322751"/><rect x="698.34" y="281.54" width="13.77" height="13.82" fill="#2d1e40"/><rect x="711.41" y="281.54" width="13.77" height="13.82" fill="#2d1e40"/><rect x="724.47" y="281.54" width="13.77" height="13.82" fill="#2d1e40"/><rect x="554.63" y="294.66" width="13.77" height="13.82" fill="#2d1e40"/><rect x="567.69" y="294.66" width="13.77" height="13.82" fill="#2d1e40"/><rect x="580.76" y="294.66" width="13.77" height="13.82" fill="#322751"/><rect x="593.82" y="294.66" width="13.77" height="13.82" fill="#322751"/><rect x="606.89" y="294.66" width="13.77" height="13.82" fill="#40408a"/><rect x="619.95" y="294.66" width="13.77" height="13.82" fill="#4460a8"/><rect x="633.02" y="294.66" width="13.77" height="13.82" fill="#4450a0"/><rect x="646.08" y="294.66" width="13.77" height="13.82" fill="#3a316c"/><rect x="659.15" y="294.66" width="13.77" height="13.82" fill="#3a316c"/><rect x="672.21" y="294.66" width="13.77" height="13.82" fill="#2d1e40"/><rect x="685.28" y="294.66" width="13.77" height="13.82" fill="#2d1e40"/><rect x="698.34" y="294.66" width="13.77" height="13.82" fill="#2d1e40"/><rect x="580.76" y="307.79" width="13.77" height="13.82" fill="#322751"/><rect x="593.82" y="307.79" width="13.77" height="13.82" fill="#3a316c"/><rect x="606.89" y="307.79" width="13.77" height="13.82" fill="#3a316c"/><rect x="619.95" y="307.79" width="13.77" height="13.82" fill="#40408a"/><rect x="633.02" y="307.79" width="13.77" height="13.82" fill="#40408a"/><rect x="646.08" y="307.79" width="13.77" height="13.82" fill="#3a316c"/><rect x="659.15" y="307.79" width="13.77" height="13.82" fill="#3a316c"/><rect x="672.21" y="307.79" width="13.77" height="13.82" fill="#322751"/><rect x="685.28" y="307.79" width="13.77" height="13.82" fill="#2d1e40"/><rect x="580.76" y="320.91" width="13.77" height="13.82" fill="#2d1e40"/><rect x="593.82" y="320.91" width="13.77" height="13.82" fill="#322751"/><rect x="606.89" y="320.91" width="13.77" height="13.82" fill="#322751"/><rect x="619.95" y="320.91" width="13.77" height="13.82" fill="#40408a"/><rect x="633.02" y="320.91" width="13.77" height="13.82" fill="#3a316c"/><rect x="646.08" y="320.91" width="13.77" height="13.82" fill="#322751"/><rect x="659.15" y="320.91" width="13.77" height="13.82" fill="#2d1e40"/><rect x="672.21" y="320.91" width="13.77" height="13.82" fill="#2d1e40"/><rect x="685.28" y="320.91" width="13.77" height="13.82" fill="#322751"/><rect x="698.34" y="320.91" width="13.77" height="13.82" fill="#2d1e40"/><rect x="593.82" y="334.04" width="13.77" height="13.82" fill="#322751"/><rect x="606.89" y="334.04" width="13.77" height="13.82" fill="#322751"/><rect x="619.95" y="334.04" width="13.77" height="13.82" fill="#3a316c"/><rect x="633.02" y="334.04" width="13.77" height="13.82" fill="#322751"/><rect x="646.08" y="334.04" width="13.77" height="13.82" fill="#322751"/><rect x="659.15" y="334.04" width="13.77" height="13.82" fill="#322751"/><rect x="672.21" y="334.04" width="13.77" height="13.82" fill="#322751"/><rect x="685.28" y="334.04" width="13.77" height="13.82" fill="#2d1e40"/><rect x="698.34" y="334.04" width="13.77" height="13.82" fill="#2d1e40"/><rect x="593.82" y="347.16" width="13.77" height="13.82" fill="#2d1e40"/><rect x="606.89" y="347.16" width="13.77" height="13.82" fill="#2d1e40"/><rect x="619.95" y="347.16" width="13.77" height="13.82" fill="#3a316c"/><rect x="633.02" y="347.16" width="13.77" height="13.82" fill="#322751"/><rect x="646.08" y="347.16" width="13.77" height="13.82" fill="#2d1e40"/><rect x="659.15" y="347.16" width="13.77" height="13.82" fill="#2d1e40"/><rect x="672.21" y="347.16" width="13.77" height="13.82" fill="#2d1e40"/><rect x="685.28" y="347.16" width="13.77" height="13.82" fill="#2d1e40"/><rect x="619.95" y="360.29" width="13.77" height="13.82" fill="#322751"/><rect x="633.02" y="360.29" width="13.77" height="13.82" fill="#322751"/><rect x="646.08" y="360.29" width="13.77" height="13.82" fill="#2d1e40"/><rect x="619.95" y="373.41" width="13.77" height="13.82" fill="#2d1e40"/><rect x="633.02" y="373.41" width="13.77" height="13.82" fill="#2d1e40"/><rect x="646.08" y="373.41" width="13.77" height="13.82" fill="#2d1e40"/></g><rect x="477.05" y="71.95" width="325.1" height="326.2" fill="none" stroke="#2b2b2b" stroke-width="1.9"/><rect x="476.10" y="69.10" width="327.00" height="3.80" fill="#2b2b2b"/><line x1="552.45" y1="398.15" x2="552.45" y2="409.4" stroke="#2b2b2b" stroke-width="3.5"/><line x1="639.55" y1="398.15" x2="639.55" y2="409.4" stroke="#2b2b2b" stroke-width="3.5"/><line x1="726.65" y1="398.15" x2="726.65" y2="409.4" stroke="#2b2b2b" stroke-width="3.5"/><rect x="823.25" y="4.75" width="325.1" height="65.30" fill="#e4e9ee" stroke="#2b2b2b" stroke-width="1.9"/><rect x="823.25" y="71.95" width="325.1" height="326.2" fill="#2d1e40"/><g><rect x="848.72" y="71.95" width="13.77" height="13.41" fill="#322751"/><rect x="861.78" y="71.95" width="13.77" height="13.41" fill="#322751"/><rect x="874.85" y="71.95" width="13.77" height="13.41" fill="#322751"/><rect x="887.91" y="71.95" width="13.77" height="13.41" fill="#40408a"/><rect x="900.98" y="71.95" width="13.77" height="13.41" fill="#40408a"/><rect x="914.04" y="71.95" width="13.77" height="13.41" fill="#4450a0"/><rect x="927.11" y="71.95" width="13.77" height="13.41" fill="#4470a8"/><rect x="940.17" y="71.95" width="13.77" height="13.41" fill="#4880a8"/><rect x="953.24" y="71.95" width="13.77" height="13.41" fill="#56a6a8"/><rect x="966.30" y="71.95" width="13.77" height="13.41" fill="#70d4b2"/><rect x="979.37" y="71.95" width="13.77" height="13.41" fill="#70d4b2"/><rect x="992.43" y="71.95" width="13.77" height="13.41" fill="#62c2b0"/><rect x="1005.50" y="71.95" width="13.77" height="13.41" fill="#62c2b0"/><rect x="1018.56" y="71.95" width="13.77" height="13.41" fill="#5ab2a8"/><rect x="1031.63" y="71.95" width="13.77" height="13.41" fill="#5098a8"/><rect x="1044.69" y="71.95" width="13.77" height="13.41" fill="#4a8ca8"/><rect x="1057.76" y="71.95" width="13.77" height="13.41" fill="#4880a8"/><rect x="1070.82" y="71.95" width="13.77" height="13.41" fill="#4460a8"/><rect x="1083.89" y="71.95" width="13.77" height="13.41" fill="#40408a"/><rect x="1096.95" y="71.95" width="13.77" height="13.41" fill="#40408a"/><rect x="1110.02" y="71.95" width="13.77" height="13.41" fill="#3a316c"/><rect x="1123.08" y="71.95" width="13.77" height="13.41" fill="#3a316c"/><rect x="1136.15" y="71.95" width="12.20" height="13.41" fill="#3a316c"/><rect x="848.72" y="84.66" width="13.77" height="13.83" fill="#2d1e40"/><rect x="861.78" y="84.66" width="13.77" height="13.83" fill="#322751"/><rect x="874.85" y="84.66" width="13.77" height="13.83" fill="#322751"/><rect x="887.91" y="84.66" width="13.77" height="13.83" fill="#322751"/><rect x="900.98" y="84.66" width="13.77" height="13.83" fill="#40408a"/><rect x="914.04" y="84.66" width="13.77" height="13.83" fill="#4450a0"/><rect x="927.11" y="84.66" width="13.77" height="13.83" fill="#4460a8"/><rect x="940.17" y="84.66" width="13.77" height="13.83" fill="#4880a8"/><rect x="953.24" y="84.66" width="13.77" height="13.83" fill="#5098a8"/><rect x="966.30" y="84.66" width="13.77" height="13.83" fill="#62c2b0"/><rect x="979.37" y="84.66" width="13.77" height="13.83" fill="#62c2b0"/><rect x="992.43" y="84.66" width="13.77" height="13.83" fill="#5ab2a8"/><rect x="1005.50" y="84.66" width="13.77" height="13.83" fill="#56a6a8"/><rect x="1018.56" y="84.66" width="13.77" height="13.83" fill="#5098a8"/><rect x="1031.63" y="84.66" width="13.77" height="13.83" fill="#4880a8"/><rect x="1044.69" y="84.66" width="13.77" height="13.83" fill="#4470a8"/><rect x="1057.76" y="84.66" width="13.77" height="13.83" fill="#4460a8"/><rect x="1070.82" y="84.66" width="13.77" height="13.83" fill="#4450a0"/><rect x="1083.89" y="84.66" width="13.77" height="13.83" fill="#3a316c"/><rect x="1096.95" y="84.66" width="13.77" height="13.83" fill="#3a316c"/><rect x="1110.02" y="84.66" width="13.77" height="13.83" fill="#322751"/><rect x="1123.08" y="84.66" width="13.77" height="13.83" fill="#322751"/><rect x="1136.15" y="84.66" width="12.20" height="13.83" fill="#2d1e40"/><rect x="861.78" y="97.79" width="13.77" height="13.83" fill="#2d1e40"/><rect x="874.85" y="97.79" width="13.77" height="13.83" fill="#322751"/><rect x="887.91" y="97.79" width="13.77" height="13.83" fill="#322751"/><rect x="900.98" y="97.79" width="13.77" height="13.83" fill="#322751"/><rect x="914.04" y="97.79" width="13.77" height="13.83" fill="#40408a"/><rect x="927.11" y="97.79" width="13.77" height="13.83" fill="#4450a0"/><rect x="940.17" y="97.79" width="13.77" height="13.83" fill="#4470a8"/><rect x="953.24" y="97.79" width="13.77" height="13.83" fill="#4a8ca8"/><rect x="966.30" y="97.79" width="13.77" height="13.83" fill="#56a6a8"/><rect x="979.37" y="97.79" width="13.77" height="13.83" fill="#5ab2a8"/><rect x="992.43" y="97.79" width="13.77" height="13.83" fill="#5098a8"/><rect x="1005.50" y="97.79" width="13.77" height="13.83" fill="#5098a8"/><rect x="1018.56" y="97.79" width="13.77" height="13.83" fill="#4a8ca8"/><rect x="1031.63" y="97.79" width="13.77" height="13.83" fill="#4470a8"/><rect x="1044.69" y="97.79" width="13.77" height="13.83" fill="#4460a8"/><rect x="1057.76" y="97.79" width="13.77" height="13.83" fill="#4450a0"/><rect x="1070.82" y="97.79" width="13.77" height="13.83" fill="#40408a"/><rect x="1083.89" y="97.79" width="13.77" height="13.83" fill="#3a316c"/><rect x="1096.95" y="97.79" width="13.77" height="13.83" fill="#3a316c"/><rect x="1110.02" y="97.79" width="13.77" height="13.83" fill="#322751"/><rect x="1123.08" y="97.79" width="13.77" height="13.83" fill="#322751"/><rect x="1136.15" y="97.79" width="12.20" height="13.83" fill="#2d1e40"/><rect x="874.85" y="110.91" width="13.77" height="13.83" fill="#2d1e40"/><rect x="887.91" y="110.91" width="13.77" height="13.83" fill="#322751"/><rect x="900.98" y="110.91" width="13.77" height="13.83" fill="#322751"/><rect x="914.04" y="110.91" width="13.77" height="13.83" fill="#40408a"/><rect x="927.11" y="110.91" width="13.77" height="13.83" fill="#4450a0"/><rect x="940.17" y="110.91" width="13.77" height="13.83" fill="#4470a8"/><rect x="953.24" y="110.91" width="13.77" height="13.83" fill="#4a8ca8"/><rect x="966.30" y="110.91" width="13.77" height="13.83" fill="#56a6a8"/><rect x="979.37" y="110.91" width="13.77" height="13.83" fill="#5098a8"/><rect x="992.43" y="110.91" width="13.77" height="13.83" fill="#4a8ca8"/><rect x="1005.50" y="110.91" width="13.77" height="13.83" fill="#4a8ca8"/><rect x="1018.56" y="110.91" width="13.77" height="13.83" fill="#4880a8"/><rect x="1031.63" y="110.91" width="13.77" height="13.83" fill="#4460a8"/><rect x="1044.69" y="110.91" width="13.77" height="13.83" fill="#4460a8"/><rect x="1057.76" y="110.91" width="13.77" height="13.83" fill="#40408a"/><rect x="1070.82" y="110.91" width="13.77" height="13.83" fill="#40408a"/><rect x="1083.89" y="110.91" width="13.77" height="13.83" fill="#322751"/><rect x="1096.95" y="110.91" width="13.77" height="13.83" fill="#322751"/><rect x="1110.02" y="110.91" width="13.77" height="13.83" fill="#322751"/><rect x="1123.08" y="110.91" width="13.77" height="13.83" fill="#322751"/><rect x="1136.15" y="110.91" width="12.20" height="13.83" fill="#322751"/><rect x="887.91" y="124.04" width="13.77" height="13.82" fill="#322751"/><rect x="900.98" y="124.04" width="13.77" height="13.82" fill="#322751"/><rect x="914.04" y="124.04" width="13.77" height="13.82" fill="#322751"/><rect x="927.11" y="124.04" width="13.77" height="13.82" fill="#40408a"/><rect x="940.17" y="124.04" width="13.77" height="13.82" fill="#4470a8"/><rect x="953.24" y="124.04" width="13.77" height="13.82" fill="#4a8ca8"/><rect x="966.30" y="124.04" width="13.77" height="13.82" fill="#56a6a8"/><rect x="979.37" y="124.04" width="13.77" height="13.82" fill="#5098a8"/><rect x="992.43" y="124.04" width="13.77" height="13.82" fill="#4880a8"/><rect x="1005.50" y="124.04" width="13.77" height="13.82" fill="#4a8ca8"/><rect x="1018.56" y="124.04" width="13.77" height="13.82" fill="#4470a8"/><rect x="1031.63" y="124.04" width="13.77" height="13.82" fill="#4460a8"/><rect x="1044.69" y="124.04" width="13.77" height="13.82" fill="#4450a0"/><rect x="1057.76" y="124.04" width="13.77" height="13.82" fill="#3a316c"/><rect x="1070.82" y="124.04" width="13.77" height="13.82" fill="#3a316c"/><rect x="1083.89" y="124.04" width="13.77" height="13.82" fill="#322751"/><rect x="1096.95" y="124.04" width="13.77" height="13.82" fill="#322751"/><rect x="1110.02" y="124.04" width="13.77" height="13.82" fill="#2d1e40"/><rect x="1123.08" y="124.04" width="13.77" height="13.82" fill="#2d1e40"/><rect x="1136.15" y="124.04" width="12.20" height="13.82" fill="#2d1e40"/><rect x="887.91" y="137.16" width="13.77" height="13.82" fill="#322751"/><rect x="900.98" y="137.16" width="13.77" height="13.82" fill="#322751"/><rect x="914.04" y="137.16" width="13.77" height="13.82" fill="#3a316c"/><rect x="927.11" y="137.16" width="13.77" height="13.82" fill="#40408a"/><rect x="940.17" y="137.16" width="13.77" height="13.82" fill="#4450a0"/><rect x="953.24" y="137.16" width="13.77" height="13.82" fill="#4470a8"/><rect x="966.30" y="137.16" width="13.77" height="13.82" fill="#5098a8"/><rect x="979.37" y="137.16" width="13.77" height="13.82" fill="#5098a8"/><rect x="992.43" y="137.16" width="13.77" height="13.82" fill="#4880a8"/><rect x="1005.50" y="137.16" width="13.77" height="13.82" fill="#4470a8"/><rect x="1018.56" y="137.16" width="13.77" height="13.82" fill="#4460a8"/><rect x="1031.63" y="137.16" width="13.77" height="13.82" fill="#40408a"/><rect x="1044.69" y="137.16" width="13.77" height="13.82" fill="#40408a"/><rect x="1057.76" y="137.16" width="13.77" height="13.82" fill="#3a316c"/><rect x="1070.82" y="137.16" width="13.77" height="13.82" fill="#3a316c"/><rect x="1083.89" y="137.16" width="13.77" height="13.82" fill="#322751"/><rect x="1096.95" y="137.16" width="13.77" height="13.82" fill="#322751"/><rect x="1110.02" y="137.16" width="13.77" height="13.82" fill="#2d1e40"/><rect x="874.85" y="150.29" width="13.77" height="13.82" fill="#322751"/><rect x="887.91" y="150.29" width="13.77" height="13.82" fill="#2d1e40"/><rect x="900.98" y="150.29" width="13.77" height="13.82" fill="#3a316c"/><rect x="914.04" y="150.29" width="13.77" height="13.82" fill="#3a316c"/><rect x="927.11" y="150.29" width="13.77" height="13.82" fill="#40408a"/><rect x="940.17" y="150.29" width="13.77" height="13.82" fill="#4450a0"/><rect x="953.24" y="150.29" width="13.77" height="13.82" fill="#4470a8"/><rect x="966.30" y="150.29" width="13.77" height="13.82" fill="#4a8ca8"/><rect x="979.37" y="150.29" width="13.77" height="13.82" fill="#4a8ca8"/><rect x="992.43" y="150.29" width="13.77" height="13.82" fill="#4880a8"/><rect x="1005.50" y="150.29" width="13.77" height="13.82" fill="#4470a8"/><rect x="1018.56" y="150.29" width="13.77" height="13.82" fill="#4460a8"/><rect x="1031.63" y="150.29" width="13.77" height="13.82" fill="#4450a0"/><rect x="1044.69" y="150.29" width="13.77" height="13.82" fill="#40408a"/><rect x="1057.76" y="150.29" width="13.77" height="13.82" fill="#3a316c"/><rect x="1070.82" y="150.29" width="13.77" height="13.82" fill="#3a316c"/><rect x="1083.89" y="150.29" width="13.77" height="13.82" fill="#2d1e40"/><rect x="1096.95" y="150.29" width="13.77" height="13.82" fill="#322751"/><rect x="1110.02" y="150.29" width="13.77" height="13.82" fill="#2d1e40"/><rect x="874.85" y="163.41" width="13.77" height="13.82" fill="#2d1e40"/><rect x="887.91" y="163.41" width="13.77" height="13.82" fill="#322751"/><rect x="900.98" y="163.41" width="13.77" height="13.82" fill="#322751"/><rect x="914.04" y="163.41" width="13.77" height="13.82" fill="#322751"/><rect x="927.11" y="163.41" width="13.77" height="13.82" fill="#40408a"/><rect x="940.17" y="163.41" width="13.77" height="13.82" fill="#40408a"/><rect x="953.24" y="163.41" width="13.77" height="13.82" fill="#4460a8"/><rect x="966.30" y="163.41" width="13.77" height="13.82" fill="#4a8ca8"/><rect x="979.37" y="163.41" width="13.77" height="13.82" fill="#4880a8"/><rect x="992.43" y="163.41" width="13.77" height="13.82" fill="#4880a8"/><rect x="1005.50" y="163.41" width="13.77" height="13.82" fill="#4460a8"/><rect x="1018.56" y="163.41" width="13.77" height="13.82" fill="#4450a0"/><rect x="1031.63" y="163.41" width="13.77" height="13.82" fill="#40408a"/><rect x="1044.69" y="163.41" width="13.77" height="13.82" fill="#40408a"/><rect x="1057.76" y="163.41" width="13.77" height="13.82" fill="#3a316c"/><rect x="1070.82" y="163.41" width="13.77" height="13.82" fill="#2d1e40"/><rect x="1083.89" y="163.41" width="13.77" height="13.82" fill="#322751"/><rect x="1096.95" y="163.41" width="13.77" height="13.82" fill="#2d1e40"/><rect x="1110.02" y="163.41" width="13.77" height="13.82" fill="#2d1e40"/><rect x="887.91" y="176.54" width="13.77" height="13.82" fill="#2d1e40"/><rect x="900.98" y="176.54" width="13.77" height="13.82" fill="#322751"/><rect x="914.04" y="176.54" width="13.77" height="13.82" fill="#3a316c"/><rect x="927.11" y="176.54" width="13.77" height="13.82" fill="#3a316c"/><rect x="940.17" y="176.54" width="13.77" height="13.82" fill="#40408a"/><rect x="953.24" y="176.54" width="13.77" height="13.82" fill="#4460a8"/><rect x="966.30" y="176.54" width="13.77" height="13.82" fill="#4880a8"/><rect x="979.37" y="176.54" width="13.77" height="13.82" fill="#4880a8"/><rect x="992.43" y="176.54" width="13.77" height="13.82" fill="#4460a8"/><rect x="1005.50" y="176.54" width="13.77" height="13.82" fill="#4460a8"/><rect x="1018.56" y="176.54" width="13.77" height="13.82" fill="#40408a"/><rect x="1031.63" y="176.54" width="13.77" height="13.82" fill="#40408a"/><rect x="1044.69" y="176.54" width="13.77" height="13.82" fill="#40408a"/><rect x="1057.76" y="176.54" width="13.77" height="13.82" fill="#322751"/><rect x="1070.82" y="176.54" width="13.77" height="13.82" fill="#322751"/><rect x="1083.89" y="176.54" width="13.77" height="13.82" fill="#2d1e40"/><rect x="1096.95" y="176.54" width="13.77" height="13.82" fill="#322751"/><rect x="1110.02" y="176.54" width="13.77" height="13.82" fill="#2d1e40"/><rect x="887.91" y="189.66" width="13.77" height="13.82" fill="#322751"/><rect x="900.98" y="189.66" width="13.77" height="13.82" fill="#322751"/><rect x="914.04" y="189.66" width="13.77" height="13.82" fill="#2d1e40"/><rect x="927.11" y="189.66" width="13.77" height="13.82" fill="#322751"/><rect x="940.17" y="189.66" width="13.77" height="13.82" fill="#4450a0"/><rect x="953.24" y="189.66" width="13.77" height="13.82" fill="#4450a0"/><rect x="966.30" y="189.66" width="13.77" height="13.82" fill="#4470a8"/><rect x="979.37" y="189.66" width="13.77" height="13.82" fill="#4470a8"/><rect x="992.43" y="189.66" width="13.77" height="13.82" fill="#4460a8"/><rect x="1005.50" y="189.66" width="13.77" height="13.82" fill="#4450a0"/><rect x="1018.56" y="189.66" width="13.77" height="13.82" fill="#40408a"/><rect x="1031.63" y="189.66" width="13.77" height="13.82" fill="#3a316c"/><rect x="1044.69" y="189.66" width="13.77" height="13.82" fill="#322751"/><rect x="1057.76" y="189.66" width="13.77" height="13.82" fill="#322751"/><rect x="1070.82" y="189.66" width="13.77" height="13.82" fill="#2d1e40"/><rect x="1083.89" y="189.66" width="13.77" height="13.82" fill="#2d1e40"/><rect x="1096.95" y="189.66" width="13.77" height="13.82" fill="#322751"/><rect x="1110.02" y="189.66" width="13.77" height="13.82" fill="#2d1e40"/><rect x="887.91" y="202.79" width="13.77" height="13.82" fill="#2d1e40"/><rect x="900.98" y="202.79" width="13.77" height="13.82" fill="#322751"/><rect x="914.04" y="202.79" width="13.77" height="13.82" fill="#322751"/><rect x="927.11" y="202.79" width="13.77" height="13.82" fill="#322751"/><rect x="940.17" y="202.79" width="13.77" height="13.82" fill="#40408a"/><rect x="953.24" y="202.79" width="13.77" height="13.82" fill="#4450a0"/><rect x="966.30" y="202.79" width="13.77" height="13.82" fill="#4460a8"/><rect x="979.37" y="202.79" width="13.77" height="13.82" fill="#4460a8"/><rect x="992.43" y="202.79" width="13.77" height="13.82" fill="#4460a8"/><rect x="1005.50" y="202.79" width="13.77" height="13.82" fill="#4450a0"/><rect x="1018.56" y="202.79" width="13.77" height="13.82" fill="#3a316c"/><rect x="1031.63" y="202.79" width="13.77" height="13.82" fill="#3a316c"/><rect x="1044.69" y="202.79" width="13.77" height="13.82" fill="#322751"/><rect x="1057.76" y="202.79" width="13.77" height="13.82" fill="#2d1e40"/><rect x="1070.82" y="202.79" width="13.77" height="13.82" fill="#322751"/><rect x="1083.89" y="202.79" width="13.77" height="13.82" fill="#2d1e40"/><rect x="1096.95" y="202.79" width="13.77" height="13.82" fill="#322751"/><rect x="1110.02" y="202.79" width="13.77" height="13.82" fill="#2d1e40"/><rect x="900.98" y="215.91" width="13.77" height="13.82" fill="#2d1e40"/><rect x="914.04" y="215.91" width="13.77" height="13.82" fill="#322751"/><rect x="927.11" y="215.91" width="13.77" height="13.82" fill="#322751"/><rect x="940.17" y="215.91" width="13.77" height="13.82" fill="#3a316c"/><rect x="953.24" y="215.91" width="13.77" height="13.82" fill="#4450a0"/><rect x="966.30" y="215.91" width="13.77" height="13.82" fill="#4460a8"/><rect x="979.37" y="215.91" width="13.77" height="13.82" fill="#4450a0"/><rect x="992.43" y="215.91" width="13.77" height="13.82" fill="#4450a0"/><rect x="1005.50" y="215.91" width="13.77" height="13.82" fill="#3a316c"/><rect x="1018.56" y="215.91" width="13.77" height="13.82" fill="#322751"/><rect x="1031.63" y="215.91" width="13.77" height="13.82" fill="#322751"/><rect x="1044.69" y="215.91" width="13.77" height="13.82" fill="#322751"/><rect x="1057.76" y="215.91" width="13.77" height="13.82" fill="#2d1e40"/><rect x="1070.82" y="215.91" width="13.77" height="13.82" fill="#322751"/><rect x="1083.89" y="215.91" width="13.77" height="13.82" fill="#2d1e40"/><rect x="1096.95" y="215.91" width="13.77" height="13.82" fill="#2d1e40"/><rect x="1110.02" y="215.91" width="13.77" height="13.82" fill="#2d1e40"/><rect x="914.04" y="229.04" width="13.77" height="13.82" fill="#322751"/><rect x="927.11" y="229.04" width="13.77" height="13.82" fill="#322751"/><rect x="940.17" y="229.04" width="13.77" height="13.82" fill="#3a316c"/><rect x="953.24" y="229.04" width="13.77" height="13.82" fill="#40408a"/><rect x="966.30" y="229.04" width="13.77" height="13.82" fill="#4460a8"/><rect x="979.37" y="229.04" width="13.77" height="13.82" fill="#4450a0"/><rect x="992.43" y="229.04" width="13.77" height="13.82" fill="#40408a"/><rect x="1005.50" y="229.04" width="13.77" height="13.82" fill="#3a316c"/><rect x="1018.56" y="229.04" width="13.77" height="13.82" fill="#322751"/><rect x="1031.63" y="229.04" width="13.77" height="13.82" fill="#2d1e40"/><rect x="1044.69" y="229.04" width="13.77" height="13.82" fill="#2d1e40"/><rect x="1057.76" y="229.04" width="13.77" height="13.82" fill="#322751"/><rect x="1070.82" y="229.04" width="13.77" height="13.82" fill="#322751"/><rect x="1083.89" y="229.04" width="13.77" height="13.82" fill="#2d1e40"/><rect x="914.04" y="242.16" width="13.77" height="13.82" fill="#2d1e40"/><rect x="927.11" y="242.16" width="13.77" height="13.82" fill="#2d1e40"/><rect x="940.17" y="242.16" width="13.77" height="13.82" fill="#3a316c"/><rect x="953.24" y="242.16" width="13.77" height="13.82" fill="#3a316c"/><rect x="966.30" y="242.16" width="13.77" height="13.82" fill="#4450a0"/><rect x="979.37" y="242.16" width="13.77" height="13.82" fill="#4450a0"/><rect x="992.43" y="242.16" width="13.77" height="13.82" fill="#3a316c"/><rect x="1005.50" y="242.16" width="13.77" height="13.82" fill="#3a316c"/><rect x="1018.56" y="242.16" width="13.77" height="13.82" fill="#3a316c"/><rect x="1031.63" y="242.16" width="13.77" height="13.82" fill="#322751"/><rect x="1044.69" y="242.16" width="13.77" height="13.82" fill="#322751"/><rect x="1057.76" y="242.16" width="13.77" height="13.82" fill="#2d1e40"/><rect x="1070.82" y="242.16" width="13.77" height="13.82" fill="#2d1e40"/><rect x="1083.89" y="242.16" width="13.77" height="13.82" fill="#2d1e40"/><rect x="927.11" y="255.29" width="13.77" height="13.82" fill="#322751"/><rect x="940.17" y="255.29" width="13.77" height="13.82" fill="#3a316c"/><rect x="953.24" y="255.29" width="13.77" height="13.82" fill="#40408a"/><rect x="966.30" y="255.29" width="13.77" height="13.82" fill="#4450a0"/><rect x="979.37" y="255.29" width="13.77" height="13.82" fill="#4450a0"/><rect x="992.43" y="255.29" width="13.77" height="13.82" fill="#40408a"/><rect x="1005.50" y="255.29" width="13.77" height="13.82" fill="#322751"/><rect x="1018.56" y="255.29" width="13.77" height="13.82" fill="#322751"/><rect x="1031.63" y="255.29" width="13.77" height="13.82" fill="#2d1e40"/><rect x="1044.69" y="255.29" width="13.77" height="13.82" fill="#2d1e40"/><rect x="1057.76" y="255.29" width="13.77" height="13.82" fill="#2d1e40"/><rect x="927.11" y="268.41" width="13.77" height="13.82" fill="#2d1e40"/><rect x="940.17" y="268.41" width="13.77" height="13.82" fill="#322751"/><rect x="953.24" y="268.41" width="13.77" height="13.82" fill="#3a316c"/><rect x="966.30" y="268.41" width="13.77" height="13.82" fill="#40408a"/><rect x="979.37" y="268.41" width="13.77" height="13.82" fill="#40408a"/><rect x="992.43" y="268.41" width="13.77" height="13.82" fill="#3a316c"/><rect x="1005.50" y="268.41" width="13.77" height="13.82" fill="#322751"/><rect x="1018.56" y="268.41" width="13.77" height="13.82" fill="#322751"/><rect x="1031.63" y="268.41" width="13.77" height="13.82" fill="#322751"/><rect x="1044.69" y="268.41" width="13.77" height="13.82" fill="#2d1e40"/><rect x="914.04" y="281.54" width="13.77" height="13.82" fill="#322751"/><rect x="927.11" y="281.54" width="13.77" height="13.82" fill="#322751"/><rect x="940.17" y="281.54" width="13.77" height="13.82" fill="#322751"/><rect x="953.24" y="281.54" width="13.77" height="13.82" fill="#3a316c"/><rect x="966.30" y="281.54" width="13.77" height="13.82" fill="#40408a"/><rect x="979.37" y="281.54" width="13.77" height="13.82" fill="#40408a"/><rect x="992.43" y="281.54" width="13.77" height="13.82" fill="#3a316c"/><rect x="1005.50" y="281.54" width="13.77" height="13.82" fill="#322751"/><rect x="1018.56" y="281.54" width="13.77" height="13.82" fill="#322751"/><rect x="1031.63" y="281.54" width="13.77" height="13.82" fill="#2d1e40"/><rect x="1044.69" y="281.54" width="13.77" height="13.82" fill="#2d1e40"/><rect x="914.04" y="294.66" width="13.77" height="13.82" fill="#2d1e40"/><rect x="927.11" y="294.66" width="13.77" height="13.82" fill="#2d1e40"/><rect x="940.17" y="294.66" width="13.77" height="13.82" fill="#2d1e40"/><rect x="953.24" y="294.66" width="13.77" height="13.82" fill="#322751"/><rect x="966.30" y="294.66" width="13.77" height="13.82" fill="#3a316c"/><rect x="979.37" y="294.66" width="13.77" height="13.82" fill="#3a316c"/><rect x="992.43" y="294.66" width="13.77" height="13.82" fill="#322751"/><rect x="1005.50" y="294.66" width="13.77" height="13.82" fill="#322751"/><rect x="1018.56" y="294.66" width="13.77" height="13.82" fill="#3a316c"/><rect x="1031.63" y="294.66" width="13.77" height="13.82" fill="#2d1e40"/><rect x="940.17" y="307.79" width="13.77" height="13.82" fill="#322751"/><rect x="953.24" y="307.79" width="13.77" height="13.82" fill="#322751"/><rect x="966.30" y="307.79" width="13.77" height="13.82" fill="#322751"/><rect x="979.37" y="307.79" width="13.77" height="13.82" fill="#322751"/><rect x="992.43" y="307.79" width="13.77" height="13.82" fill="#322751"/><rect x="1005.50" y="307.79" width="13.77" height="13.82" fill="#322751"/><rect x="1018.56" y="307.79" width="13.77" height="13.82" fill="#2d1e40"/><rect x="1031.63" y="307.79" width="13.77" height="13.82" fill="#2d1e40"/><rect x="940.17" y="320.91" width="13.77" height="13.82" fill="#2d1e40"/><rect x="953.24" y="320.91" width="13.77" height="13.82" fill="#2d1e40"/><rect x="966.30" y="320.91" width="13.77" height="13.82" fill="#322751"/><rect x="979.37" y="320.91" width="13.77" height="13.82" fill="#322751"/><rect x="992.43" y="320.91" width="13.77" height="13.82" fill="#2d1e40"/><rect x="1005.50" y="320.91" width="13.77" height="13.82" fill="#322751"/><rect x="1018.56" y="320.91" width="13.77" height="13.82" fill="#2d1e40"/><rect x="953.24" y="334.04" width="13.77" height="13.82" fill="#322751"/><rect x="966.30" y="334.04" width="13.77" height="13.82" fill="#2d1e40"/><rect x="979.37" y="334.04" width="13.77" height="13.82" fill="#322751"/><rect x="992.43" y="334.04" width="13.77" height="13.82" fill="#2d1e40"/><rect x="1005.50" y="334.04" width="13.77" height="13.82" fill="#2d1e40"/><rect x="1018.56" y="334.04" width="13.77" height="13.82" fill="#2d1e40"/><rect x="953.24" y="347.16" width="13.77" height="13.82" fill="#2d1e40"/><rect x="966.30" y="347.16" width="13.77" height="13.82" fill="#2d1e40"/><rect x="979.37" y="347.16" width="13.77" height="13.82" fill="#2d1e40"/><rect x="992.43" y="347.16" width="13.77" height="13.82" fill="#322751"/><rect x="1005.50" y="347.16" width="13.77" height="13.82" fill="#2d1e40"/><rect x="992.43" y="360.29" width="13.77" height="13.82" fill="#2d1e40"/><rect x="1005.50" y="360.29" width="13.77" height="13.82" fill="#2d1e40"/></g><rect x="823.25" y="71.95" width="325.1" height="326.2" fill="none" stroke="#2b2b2b" stroke-width="1.9"/><rect x="822.30" y="69.10" width="327.00" height="3.80" fill="#2b2b2b"/><line x1="898.80" y1="398.15" x2="898.80" y2="409.4" stroke="#2b2b2b" stroke-width="3.5"/><line x1="985.90" y1="398.15" x2="985.90" y2="409.4" stroke="#2b2b2b" stroke-width="3.5"/><line x1="1073.00" y1="398.15" x2="1073.00" y2="409.4" stroke="#2b2b2b" stroke-width="3.5"/><rect x="1169.45" y="4.75" width="325.1" height="65.30" fill="#e4e9ee" stroke="#2b2b2b" stroke-width="1.9"/><rect x="1169.45" y="71.95" width="325.1" height="326.2" fill="#2d1e40"/><g></g><rect x="1169.45" y="71.95" width="325.1" height="326.2" fill="none" stroke="#2b2b2b" stroke-width="1.9"/><rect x="1168.50" y="69.10" width="327.00" height="3.80" fill="#2b2b2b"/><line x1="1245.15" y1="398.15" x2="1245.15" y2="409.4" stroke="#2b2b2b" stroke-width="3.5"/><line x1="1332.25" y1="398.15" x2="1332.25" y2="409.4" stroke="#2b2b2b" stroke-width="3.5"/><line x1="1419.35" y1="398.15" x2="1419.35" y2="409.4" stroke="#2b2b2b" stroke-width="3.5"/><line x1="120.1" y1="78.10" x2="130.85" y2="78.10" stroke="#2b2b2b" stroke-width="3.5"/><line x1="120.1" y1="156.85" x2="130.85" y2="156.85" stroke="#2b2b2b" stroke-width="3.5"/><line x1="120.1" y1="235.60" x2="130.85" y2="235.60" stroke="#2b2b2b" stroke-width="3.5"/><line x1="120.1" y1="314.35" x2="130.85" y2="314.35" stroke="#2b2b2b" stroke-width="3.5"/><line x1="120.1" y1="393.10" x2="130.85" y2="393.10" stroke="#2b2b2b" stroke-width="3.5"/><rect x="288.3" y="536.5" width="1045.20" height="61.60" rx="30.80" fill="url(#cb)"/><line x1="364.40" y1="536.5" x2="364.40" y2="548.90" stroke="#eaeef0" stroke-width="2.0"/><line x1="364.40" y1="585.70" x2="364.40" y2="598.1" stroke="#eaeef0" stroke-width="2.0"/><line x1="662.20" y1="536.5" x2="662.20" y2="548.90" stroke="#eaeef0" stroke-width="2.0"/><line x1="662.20" y1="585.70" x2="662.20" y2="598.1" stroke="#eaeef0" stroke-width="2.0"/><line x1="960.00" y1="536.5" x2="960.00" y2="548.90" stroke="#eaeef0" stroke-width="2.0"/><line x1="960.00" y1="585.70" x2="960.00" y2="598.1" stroke="#eaeef0" stroke-width="2.0"/><line x1="1257.80" y1="536.5" x2="1257.80" y2="548.90" stroke="#eaeef0" stroke-width="2.0"/><line x1="1257.80" y1="585.70" x2="1257.80" y2="598.1" stroke="#eaeef0" stroke-width="2.0"/></svg><div class="t" style="left:293.40px;top:23.54px;font-size:31.5px;color:#1a1a1a;transform:translateX(-50%);">SARS-CoV</div><div class="t" style="left:444.65px;top:365.84px;font-size:25px;color:#ffffff;transform:translateX(-100%);">0.070</div><div class="t" style="left:206.10px;top:416.66px;font-size:31px;color:#474747;transform:translateX(-50%);">-200</div><div class="t" style="left:293.20px;top:416.66px;font-size:31px;color:#474747;transform:translateX(-50%);">0</div><div class="t" style="left:380.30px;top:416.66px;font-size:31px;color:#474747;transform:translateX(-50%);">200</div><div class="t" style="left:639.60px;top:23.54px;font-size:31.5px;color:#1a1a1a;transform:translateX(-50%);">Rs4084 (bat)</div><div class="t" style="left:790.85px;top:365.84px;font-size:25px;color:#ffffff;transform:translateX(-100%);">0.063</div><div class="t" style="left:552.45px;top:416.66px;font-size:31px;color:#474747;transform:translateX(-50%);">-200</div><div class="t" style="left:639.55px;top:416.66px;font-size:31px;color:#474747;transform:translateX(-50%);">0</div><div class="t" style="left:726.65px;top:416.66px;font-size:31px;color:#474747;transform:translateX(-50%);">200</div><div class="t" style="left:985.80px;top:23.54px;font-size:31.5px;color:#1a1a1a;transform:translateX(-50%);">GX/P1E (pangolin)</div><div class="t" style="left:1137.05px;top:365.84px;font-size:25px;color:#ffffff;transform:translateX(-100%);">0.043</div><div class="t" style="left:898.80px;top:416.66px;font-size:31px;color:#474747;transform:translateX(-50%);">-200</div><div class="t" style="left:985.90px;top:416.66px;font-size:31px;color:#474747;transform:translateX(-50%);">0</div><div class="t" style="left:1073.00px;top:416.66px;font-size:31px;color:#474747;transform:translateX(-50%);">200</div><div class="t" style="left:1332.00px;top:23.54px;font-size:31.5px;color:#1a1a1a;transform:translateX(-50%);">RaTG13 (bat)</div><div class="t" style="left:1488.25px;top:365.84px;font-size:25px;color:#ffffff;transform:translateX(-100%);">&lt;0.001</div><div class="t" style="left:1245.15px;top:416.66px;font-size:31px;color:#474747;transform:translateX(-50%);">-200</div><div class="t" style="left:1332.25px;top:416.66px;font-size:31px;color:#474747;transform:translateX(-50%);">0</div><div class="t" style="left:1419.35px;top:416.66px;font-size:31px;color:#474747;transform:translateX(-50%);">200</div><div class="t" style="left:112.00px;top:64.06px;font-size:31px;color:#474747;transform:translateX(-100%);">1.00</div><div class="t" style="left:112.00px;top:142.81px;font-size:31px;color:#474747;transform:translateX(-100%);">0.75</div><div class="t" style="left:112.00px;top:221.56px;font-size:31px;color:#474747;transform:translateX(-100%);">0.50</div><div class="t" style="left:112.00px;top:300.31px;font-size:31px;color:#474747;transform:translateX(-100%);">0.25</div><div class="t" style="left:112.00px;top:379.06px;font-size:31px;color:#474747;transform:translateX(-100%);">0.00</div><div class="t" style="left:813.70px;top:462.24px;font-size:32.2px;color:#232a38;transform:translateX(-50%);">Vaccine program start (days from exposure event)</div><div class="t" style="left:25.2px;top:235.0px;font-size:32.4px;color:#232a38;transform-origin:0 0;transform:rotate(-90deg) translate(-50%,-27.43px)">Vaccine program uptake (%)</div><div class="t" style="left:364.40px;top:608.96px;font-size:31px;color:#232a38;transform:translateX(-50%);">-0.04</div><div class="t" style="left:662.20px;top:608.96px;font-size:31px;color:#232a38;transform:translateX(-50%);">-0.02</div><div class="t" style="left:960.00px;top:608.96px;font-size:31px;color:#232a38;transform:translateX(-50%);">0.00</div><div class="t" style="left:1257.80px;top:608.96px;font-size:31px;color:#232a38;transform:translateX(-50%);">0.02</div><div class="t" style="left:820.90px;top:654.41px;font-size:32px;color:#232a38;transform:translateX(-50%);">Change in Emergence Probability</div>
</div></body></html>
